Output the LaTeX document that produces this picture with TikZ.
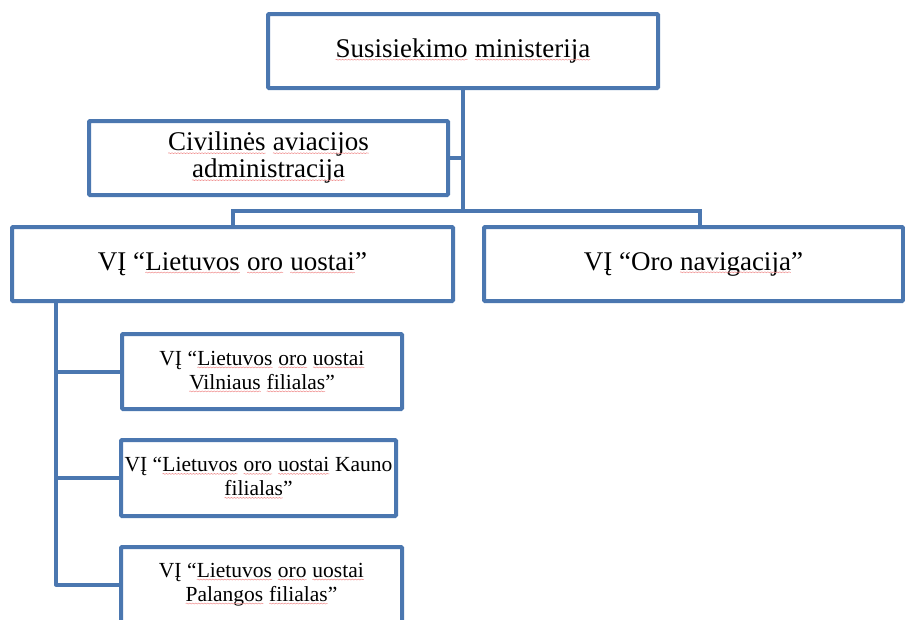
\documentclass[tikz,border=0pt]{standalone}
\usepackage{fontspec}
\setmainfont{Liberation Serif}
\usepackage{xcolor}
\usetikzlibrary{decorations.pathmorphing}
\definecolor{boxblue}{RGB}{75,119,176}
\definecolor{spellred}{RGB}{240,140,140}
\newcommand\sqline[1]{\tikz[baseline=(sqw.base)]{%
  \node[inner sep=0pt, outer sep=0pt, draw=none, fill=none, rounded corners=0pt,
        minimum width=0pt, minimum height=0pt] (sqw) {#1};
  \draw[draw=spellred, line width=0.5pt, rounded corners=0pt, decorate,
        decoration={snake, amplitude=0.5pt, segment length=3pt}]
    ([yshift=-2.2pt]sqw.base west) -- ([yshift=-2.2pt]sqw.base east);}}
\tikzset{
  orgbox/.style={draw=boxblue, line width=4pt, fill=white, rounded corners=1pt,
    inner sep=0pt, align=center},
  bigtext/.style={font=\fontsize{27}{27}\selectfont},
  smalltext/.style={font=\fontsize{21.5}{24}\selectfont},
  link/.style={draw=boxblue, line width=4pt}
}
\begin{document}
\begin{tikzpicture}[x=1pt,y=-1pt]
\useasboundingbox (0,0) rectangle (905,619);
\clip (0,0) rectangle (905,619);
% nodes
\node[orgbox, bigtext, minimum width=390pt, minimum height=74pt] (top) at (463,51)
  {\sqline{Susisiekimo} \sqline{ministerija}};
\node[orgbox, bigtext, minimum width=359pt, minimum height=74pt] (caa) at (268.5,158)
  {\sqline{Civilinės} \sqline{aviacijos}\\ \sqline{administracija}};
\node[orgbox, bigtext, minimum width=441pt, minimum height=74pt] (lou) at (232.5,264)
  {VĮ “\sqline{Lietuvos} \sqline{oro} \sqline{uostai}”};
\node[orgbox, bigtext, minimum width=419pt, minimum height=74pt] (nav) at (693.5,264)
  {VĮ “Oro \sqline{navigacija}”};
\node[orgbox, smalltext, minimum width=280pt, minimum height=75pt] (vil) at (262,371.5)
  {VĮ “\sqline{Lietuvos} \sqline{oro} \sqline{uostai}\\ \sqline{Vilniaus} \sqline{filialas}”};
\node[orgbox, smalltext, minimum width=275pt, minimum height=76pt] (kau) at (258.5,478)
  {VĮ “\sqline{Lietuvos} \sqline{oro} \sqline{uostai} Kauno\\ \sqline{filialas}”};
\node[orgbox, smalltext, minimum width=281pt, minimum height=75pt] (pal) at (261.5,584.5)
  {VĮ “\sqline{Lietuvos} \sqline{oro} \sqline{uostai}\\ \sqline{Palangos} \sqline{filialas}”};
% connectors
\coordinate (bus) at (463,211);
\coordinate (lv) at (56,301);
\draw[link] (top.south) -- (bus);
\draw[link] (caa.east) -- (caa.east -| top.south);
\draw[link] (lou.north) |- (bus) -| ([xshift=6.5pt]nav.north);
\draw[link, line join=round] (lv) |- (pal.west);
\draw[link] (vil.west) -- (vil.west -| lv);
\draw[link] (kau.west) -- (kau.west -| lv);
\end{tikzpicture}
\end{document}
